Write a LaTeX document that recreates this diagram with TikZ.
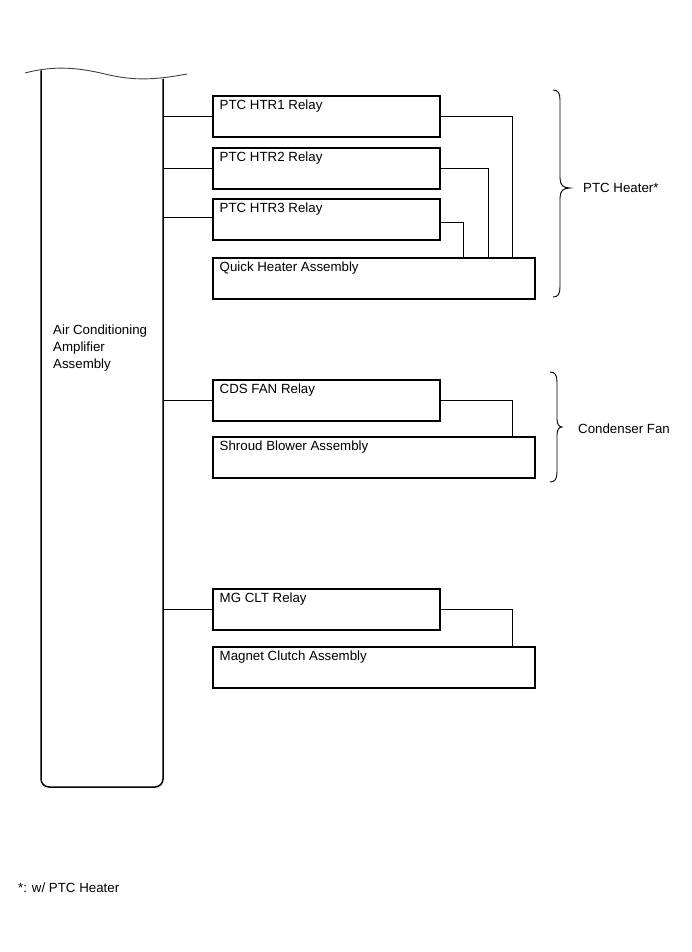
\documentclass[tikz,border=0pt]{standalone}
\usepackage{fontspec}
\setmainfont{Liberation Sans}
\begin{document}
\begin{tikzpicture}[x=1pt,y=-1pt,
  every node/.style={font=\fontsize{13.3}{17}\selectfont},
  unitbox/.style={draw, line width=2.2pt, rectangle, anchor=north west, minimum height=41pt, inner sep=0pt},
  relaybox/.style={unitbox, minimum width=227pt},
  assybox/.style={unitbox, minimum width=322pt},
  boxlabel/.style={anchor=north west, inner sep=0pt, xshift=7.5pt, yshift=-4.5pt},
  wire/.style={line width=1pt},
  brace/.style={line width=0.9pt},
  lbl/.style={anchor=west, inner sep=0pt}]
\useasboundingbox (0,0) rectangle (691,952);
% main assembly outline
\node[draw=none, rectangle, minimum width=122pt, minimum height=709pt, anchor=south west, inner sep=0pt] (amp) at (41,787) {};
\draw[line width=1.5pt, rounded corners=8pt] (41,70.5) -- (41,787) -- (163,787) -- (163,79);
\draw[line width=0.9pt, black!75] (25,73) .. controls (55,65) and (80,68) .. (105,74) .. controls (130,80) and (150,81) .. (187,74);
\node[lbl, align=left, anchor=north west] (ampt) at (53,325) {Air Conditioning\\Amplifier\\Assembly};
% PTC heater group
\node[relaybox, label={[boxlabel]north west:PTC HTR1 Relay}] (r1) at (212,95) {};
\node[relaybox, label={[boxlabel]north west:PTC HTR2 Relay}] (r2) at (212,147) {};
\node[relaybox, label={[boxlabel]north west:PTC HTR3 Relay}] (r3) at (212,198) {};
\node[assybox, label={[boxlabel]north west:Quick Heater Assembly}] (qh) at (212,257) {};
% condenser fan group
\node[relaybox, label={[boxlabel]north west:CDS FAN Relay}] (cds) at (212,379) {};
\node[assybox, label={[boxlabel]north west:Shroud Blower Assembly}] (sb) at (212,436) {};
% magnet clutch group
\node[relaybox, label={[boxlabel]north west:MG CLT Relay}] (mg) at (212,588) {};
\node[assybox, label={[boxlabel]north west:Magnet Clutch Assembly}] (mc) at (212,646) {};
% column coordinates
\coordinate (xa) at (512,0);
\coordinate (xb) at (488,0);
\coordinate (xc) at (463,0);
% left wires
\draw[wire] (r1.west) -- (r1.west -| amp.east);
\draw[wire] (r2.west) -- (r2.west -| amp.east);
\draw[wire] ([yshift=2pt]r3.west) -- ([yshift=2pt]r3.west -| amp.east);
\draw[wire] (cds.west) -- (cds.west -| amp.east);
\draw[wire] (mg.west) -- (mg.west -| amp.east);
% right wires
\draw[wire] (r1.east) -| (xa |- qh.north);
\draw[wire] (r2.east) -| (xb |- qh.north);
\draw[wire] ([yshift=-2.5pt]r3.east) -| (xc |- qh.north);
\draw[wire] (cds.east) -| (xa |- sb.north);
\draw[wire] (mg.east) -| (xa |- mc.north);
% braces
\draw[brace] (553,90) .. controls (558,90) and (560,93) .. (560,100) -- (560,178) .. controls (560,185) and (563,188) .. (570,188) .. controls (563,188) and (560,191) .. (560,198) -- (560,287) .. controls (560,294) and (558,297) .. (553,297);
\node[lbl] (ptc) at (583,188) {PTC Heater*};
\draw[brace] (550,372) .. controls (555,372) and (557,375) .. (557,382) -- (557,419) .. controls (557,424) and (559,427) .. (562,427) .. controls (559,427) and (557,430) .. (557,435) -- (557,472) .. controls (557,479) and (555,482) .. (550,482);
\node[lbl] (cf) at (578,429) {Condenser Fan};
% footnote
\node[lbl] (fn) at (18,888) {*: w/ PTC Heater};
\end{tikzpicture}
\end{document}
